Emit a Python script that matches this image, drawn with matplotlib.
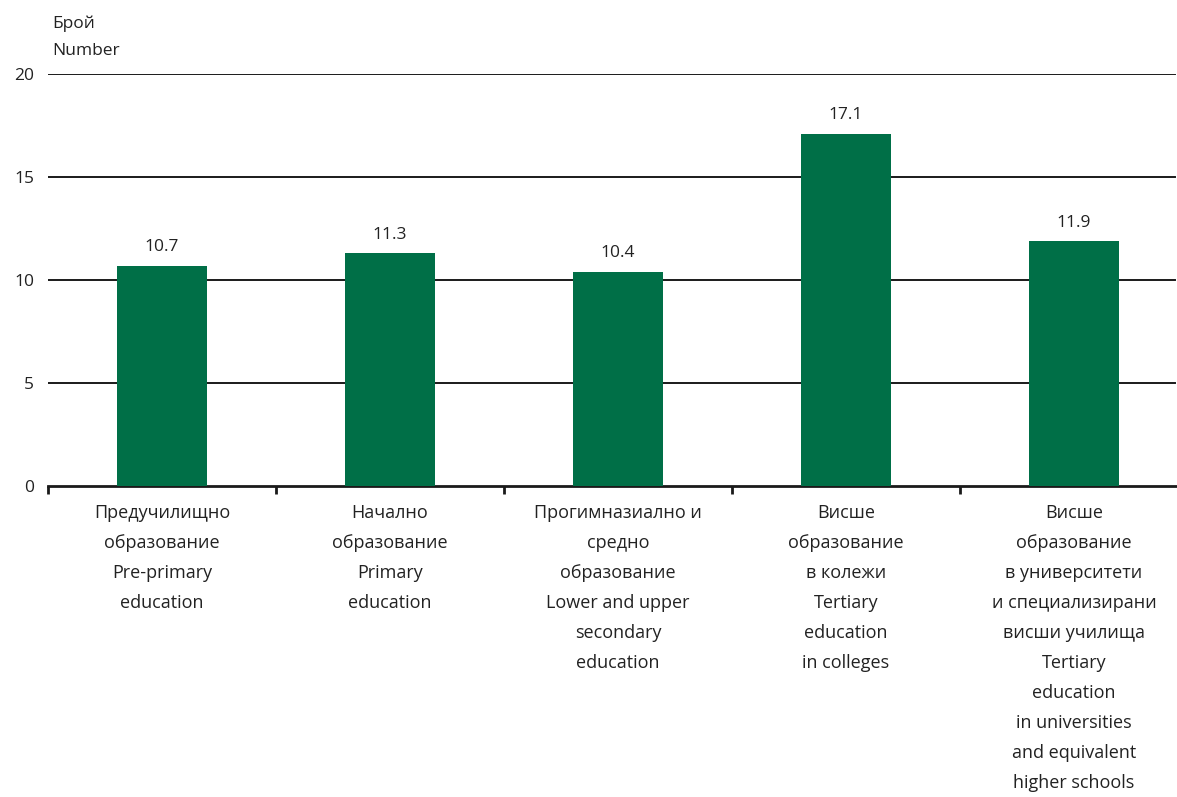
import matplotlib
matplotlib.use("Agg")
import matplotlib.pyplot as plt
import numpy as np

categories = [
    "Предучилищно\nобразование\nPre-primary\neducation",
    "Начално\nобразование\nPrimary\neducation",
    "Прогимназиално и\nсредно\nобразование\nLower and upper\nsecondary\neducation",
    "Висше\nобразование\nв колежи\nTertiary\neducation\nin colleges",
    "Висше\nобразование\nв университети\nи специализирани\nвисши училища\nTertiary\neducation\nin universities\nand equivalent\nhigher schools",
]
values = [10.7, 11.3, 10.4, 17.1, 11.9]
yticks = [0, 5, 10, 15, 20]

plt.rcParams['font.family'] = ['Open Sans', 'DejaVu Sans']

W, H = 1177, 797
fig = plt.figure(figsize=(W / 100, H / 100), dpi=100)
left, right = 48, 1188
bottom, top = 486, 74
ax = fig.add_axes([left / W, 1 - bottom / H, (right - left) / W, (bottom - top) / H])

x = np.arange(len(values))
ax.bar(x, values, width=0.395, color="#006F47", zorder=3)
ax.set_xlim(-0.5, len(values) - 0.5)
ax.set_ylim(0, 20)

for v in yticks[1:]:
    ax.axhline(v, color="#1a1a1a", lw=1.4, zorder=1, xmax=(1175 - left) / (right - left))

for xi, v in zip(x, values):
    ax.text(xi, v + 0.5, f"{v:.1f}", ha="center", va="bottom", fontsize=12.5, color="#222222")

for s in ["top", "right", "left"]:
    ax.spines[s].set_visible(False)
ax.spines["bottom"].set_linewidth(2)
ax.spines["bottom"].set_color("#1a1a1a")

ax.set_yticks(yticks)
ax.set_yticklabels([str(t) for t in yticks], fontsize=12.5, color="#222222")
ax.tick_params(axis="y", length=0, pad=10)

ax.set_xticks(np.arange(-0.5, len(values), 1.0))
ax.set_xticklabels([])
ax.tick_params(axis="x", direction="out", length=6, width=2, color="#1a1a1a")

for xi, lab in zip(x, categories):
    ax.text(xi, -0.85, lab, ha="center", va="top", fontsize=13, color="#222222",
            linespacing=1.86, transform=ax.transData, clip_on=False)

fig.text(52 / W, 1 - 37 / H, "Брой\nNumber", ha="left", va="center", fontsize=12.5,
         color="#222222", linespacing=1.95)

fig.savefig("out.png", dpi=100)
